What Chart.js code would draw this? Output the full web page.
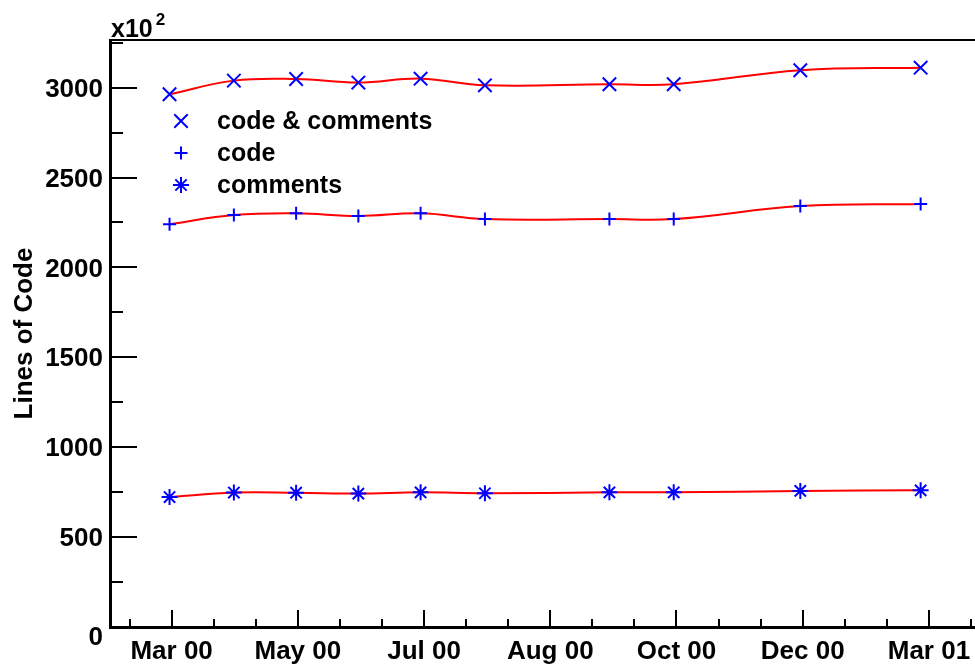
<!DOCTYPE html>
<html>
<head>
<meta charset="utf-8">
<script src="https://cdn.jsdelivr.net/npm/chart.js@4.4.1/dist/chart.umd.min.js"></script>
<style>
  html, body { margin: 0; padding: 0; background: #fff; overflow: hidden; }
  canvas { display: block; }
</style>
</head>
<body>
<canvas id="loc" width="975" height="665"></canvas>
<script>
// Snapshot dates, in days after the "Mar 00" axis mark
const snapshotDays = [-1, 30, 60, 90, 120, 151, 211, 242, 303, 361];

// Line counts per snapshot (axis shown in units of 10^2)
const codeAndComments = [2963, 3039, 3048, 3028, 3050, 3013, 3019, 3019, 3097, 3111];
const codeOnly        = [2240, 2291, 2301, 2286, 2301, 2269, 2269, 2269, 2341, 2353];
const commentsOnly    = [723, 748, 747, 742, 749, 744, 749, 749, 757, 760];

const seriesNames = ['code & comments', 'code', 'comments'];
const monthLabels = ['Mar 00', 'May 00', 'Jul 00', 'Aug 00', 'Oct 00', 'Dec 00', 'Mar 01'];
const yLabelStep = 500;
const yMinorStep = 250;

const FONT = '"Liberation Sans", Arial, Helvetica, sans-serif';
const BLUE = '#0000ff';
const RED = '#ff0000';

// spacing of the labelled time marks (one year split into six)
const majorStep = 365 / (monthLabels.length - 1);
const minorStep = majorStep / 3;

function series(values, style, radius) {
  return {
    data: snapshotDays.map((d, i) => ({ x: d, y: values[i] })),
    borderColor: RED,
    borderWidth: 2,
    tension: 0.4,
    pointStyle: style,
    pointRadius: radius,
    pointHoverRadius: radius,
    pointBorderColor: BLUE,
    pointBackgroundColor: BLUE,
    pointBorderWidth: 2,
    fill: false
  };
}

const datasets = [
  Object.assign(series(codeAndComments, 'crossRot', 9.5), { label: seriesNames[0] }),
  Object.assign(series(codeOnly, 'cross', 6.5), { label: seriesNames[1] }),
  Object.assign(series(commentsOnly, 'star', 8), { label: seriesNames[2] })
];

// Frame, inward tick marks, exponent note and legend box
const framePlugin = {
  id: 'frameDecor',
  afterDraw(chart) {
    const { ctx, chartArea: a, scales: { x, y } } = chart;
    ctx.save();
    ctx.strokeStyle = '#000';
    ctx.lineWidth = 2;
    ctx.beginPath();
    x.ticks.forEach(t => {
      const k = Math.round(t.value / minorStep);
      const len = (k % 3 === 0) ? 17 : 8;
      const px = Math.round(x.getPixelForValue(t.value));
      ctx.moveTo(px, a.bottom);
      ctx.lineTo(px, a.bottom - len);
    });
    y.ticks.forEach(t => {
      const len = (t.value % yLabelStep === 0) ? 27 : 13;
      const py = Math.round(y.getPixelForValue(t.value));
      ctx.moveTo(a.left, py);
      ctx.lineTo(a.left + len, py);
    });
    // top edge of the frame
    ctx.moveTo(a.left, a.top);
    ctx.lineTo(a.right, a.top);
    ctx.stroke();

    // axis multiplier
    ctx.fillStyle = '#000';
    ctx.textBaseline = 'alphabetic';
    ctx.textAlign = 'left';
    ctx.font = 'bold 25px ' + FONT;
    ctx.fillText('x10', 111, 37);
    const w = ctx.measureText('x10').width;
    ctx.font = 'bold 17px ' + FONT;
    ctx.fillText('2', 111 + w + 3, 25);

    // legend
    const rows = [121, 153, 185];
    chart.data.datasets.forEach((ds, i) => {
      ctx.strokeStyle = ds.pointBorderColor;
      ctx.fillStyle = ds.pointBackgroundColor;
      Chart.helpers.drawPoint(ctx, {
        pointStyle: ds.pointStyle,
        radius: ds.pointRadius,
        borderWidth: ds.pointBorderWidth,
        rotation: 0
      }, 181, rows[i]);
      ctx.fillStyle = '#000';
      ctx.font = 'bold 25px ' + FONT;
      ctx.textBaseline = 'middle';
      ctx.fillText(ds.label, 217, rows[i] + 1);
    });
    ctx.restore();
  }
};

new Chart(document.getElementById('loc'), {
  type: 'line',
  data: { datasets },
  plugins: [framePlugin],
  options: {
    responsive: false,
    devicePixelRatio: 1,
    animation: false,
    layout: { autoPadding: false, padding: { top: 40, right: 0, bottom: 0, left: 0 } },
    plugins: { legend: { display: false }, tooltip: { enabled: false } },
    scales: {
      x: {
        type: 'linear',
        min: -29.7,
        max: 387.2,
        afterFit: s => { s.height = 38; s.paddingLeft = 0; s.paddingRight = 0; },
        afterBuildTicks: s => {
          const ticks = [];
          for (let k = Math.ceil(s.min / minorStep); k * minorStep <= s.max; k++) {
            ticks.push({ value: k * minorStep });
          }
          s.ticks = ticks;
        },
        grid: { display: false, drawTicks: false },
        border: { display: true, color: '#000', width: 3 },
        ticks: {
          autoSkip: false,
          maxRotation: 0,
          padding: 9,
          color: '#000',
          font: { family: FONT, size: 26, weight: 'bold' },
          callback: v => {
            const k = Math.round(v / minorStep);
            if (k % 3 !== 0 || k < 0) return '';
            return monthLabels[k / 3] || '';
          }
        }
      },
      y: {
        type: 'linear',
        min: 0,
        max: 3265,
        afterFit: s => { s.width = 110; s.paddingTop = 0; s.paddingBottom = 0; },
        afterBuildTicks: s => {
          const ticks = [];
          for (let v = 0; v <= s.max; v += yMinorStep) ticks.push({ value: v });
          s.ticks = ticks;
        },
        grid: { display: false, drawTicks: false },
        border: { display: true, color: '#000', width: 3 },
        title: {
          display: true,
          text: 'Lines of Code',
          color: '#000',
          font: { family: FONT, size: 26, weight: 'bold' },
          padding: { top: 9, bottom: 0 }
        },
        ticks: {
          autoSkip: false,
          padding: 7,
          labelOffset: 2,
          color: '#000',
          font: { family: FONT, size: 26, weight: 'bold', lineHeight: 0.7 },
          // the zero label sits a little below the corner so it clears the time axis
          callback: v => {
            if (v % yLabelStep !== 0) return '';
            return v === 0 ? ['', '0'] : String(v);
          }
        }
      }
    }
  }
});
</script>
</body>
</html>
